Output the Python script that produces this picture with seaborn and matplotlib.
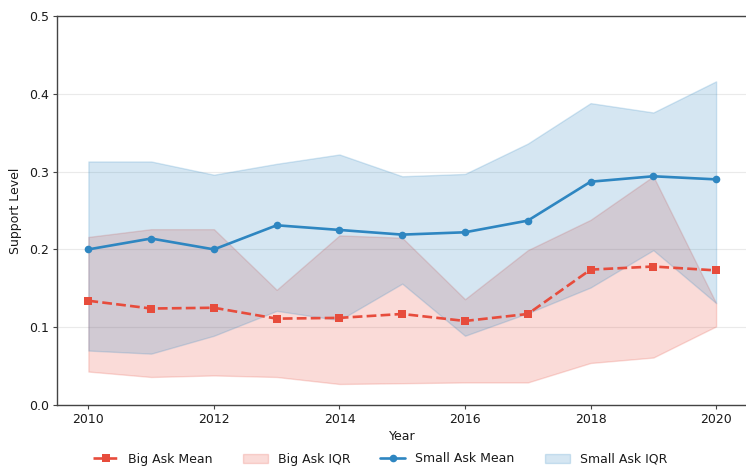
import matplotlib
matplotlib.use("Agg")
import matplotlib.pyplot as plt
import seaborn as sns
import pandas as pd
from matplotlib.patches import Patch
from matplotlib.lines import Line2D

years = [2010, 2011, 2012, 2013, 2014, 2015, 2016, 2017, 2018, 2019, 2020]

big_mean = [0.134, 0.124, 0.125, 0.111, 0.112, 0.117, 0.108, 0.117, 0.174, 0.178, 0.173]
big_q1 = [0.043, 0.036, 0.038, 0.036, 0.027, 0.028, 0.029, 0.029, 0.054, 0.061, 0.101]
big_q3 = [0.216, 0.226, 0.226, 0.148, 0.218, 0.215, 0.136, 0.199, 0.238, 0.294, 0.131]

small_mean = [0.200, 0.214, 0.200, 0.231, 0.225, 0.219, 0.222, 0.237, 0.287, 0.294, 0.290]
small_q1 = [0.070, 0.066, 0.089, 0.121, 0.109, 0.156, 0.089, 0.118, 0.151, 0.199, 0.131]
small_q3 = [0.313, 0.313, 0.296, 0.310, 0.322, 0.294, 0.297, 0.336, 0.388, 0.376, 0.416]

RED = "#e74c3c"
BLUE = "#2e86c1"

df = pd.DataFrame({"Year": years, "big": big_mean, "small": small_mean})

sns.set_style("white")
plt.rcParams["font.family"] = ["DejaVu Sans"]

fig = plt.figure(figsize=(7.46, 4.70), dpi=100)
ax = fig.add_axes([57 / 746, 1 - 405 / 470, (747.5 - 57) / 746, (405 - 16) / 470])

ax.fill_between(years, big_q1, big_q3, color=RED, alpha=0.2, linewidth=1, zorder=1)
ax.fill_between(years, small_q1, small_q3, color=BLUE, alpha=0.2, linewidth=1, zorder=1)

sns.lineplot(data=df, x="Year", y="big", ax=ax, color=RED, linestyle="--", marker="s",
             markersize=5.5, markeredgewidth=0, linewidth=1.9, zorder=3)
sns.lineplot(data=df, x="Year", y="small", ax=ax, color=BLUE, linestyle="-", marker="o",
             markersize=5.5, markeredgewidth=0, linewidth=1.9, zorder=3)

ax.set_xlim(2009.5, 2020.5)
ax.set_ylim(0, 0.5)
ax.set_xticks([2010, 2012, 2014, 2016, 2018, 2020])
ax.set_yticks([0.0, 0.1, 0.2, 0.3, 0.4, 0.5])
ax.yaxis.grid(True, color="#dddddd", alpha=0.6, linewidth=0.8)
ax.set_axisbelow(True)
ax.tick_params(axis="both", which="both", length=3, width=0.8, color="#444444",
               labelsize=9, pad=3, left=True, bottom=True, labelcolor="#1a1a1a")
for side in ["left", "bottom", "top", "right"]:
    ax.spines[side].set_color("#444444")
    ax.spines[side].set_linewidth(1.0)
ax.set_xlabel("Year", fontsize=9, labelpad=3, color="#1a1a1a")
ax.set_ylabel("Support Level", fontsize=9, labelpad=5, color="#1a1a1a")

handles = [
    Line2D([0], [0], color=RED, linestyle="--", marker="s", markersize=5.5, linewidth=1.9, markeredgewidth=0),
    Patch(facecolor=RED, alpha=0.2, edgecolor=RED),
    Line2D([0], [0], color=BLUE, linestyle="-", marker="o", markersize=5.5, linewidth=1.9, markeredgewidth=0),
    Patch(facecolor=BLUE, alpha=0.2, edgecolor=BLUE),
]
labels = ["Big Ask Mean", "Big Ask IQR", "Small Ask Mean", "Small Ask IQR"]
leg = fig.legend(handles, labels, loc="center", bbox_to_anchor=(380 / 746, 1 - 459 / 470),
                 ncol=4, frameon=False, fontsize=9, columnspacing=2.4)
for t in leg.get_texts():
    t.set_color("#1a1a1a")

fig.savefig("out.png", dpi=100)
